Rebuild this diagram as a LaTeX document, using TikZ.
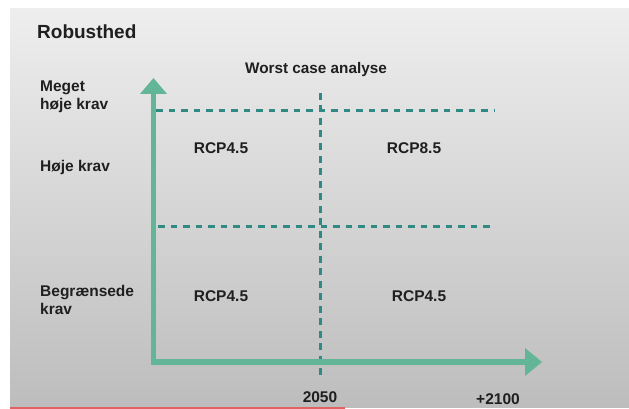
\documentclass[tikz,border=0pt]{standalone}
\usepackage{fontspec}
\setmainfont{Liberation Sans}
\usetikzlibrary{arrows.meta,positioning}
\definecolor{axisgreen}{HTML}{62B596}
\definecolor{gridteal}{HTML}{2F8A84}
\definecolor{slidered}{HTML}{E06262}
\definecolor{bgtop}{HTML}{EEEEEE}
\definecolor{bgmid}{HTML}{E2E2E2}
\definecolor{bgbot}{HTML}{BDBDBD}
\tikzstyle{axisline} = [line width=5.5pt,draw=axisgreen,line join=miter,{Triangle[width=26pt,length=16pt]}-{Triangle[width=27pt,length=17pt]}]
\tikzstyle{gridline} = [line width=3pt,draw=gridteal,dash pattern=on 6.5pt off 6pt]
\tikzstyle{lbl} = [inner sep=0,text height=11pt,text depth=0pt,text=black!88,font=\fontsize{15.5}{18}\selectfont\bfseries]
\tikzstyle{side} = [lbl,anchor=west]
\def \gap {7pt}

\begin{document}
\begin{tikzpicture}[x=1pt,y=-1pt]
      % slide background
      \fill[white] (0,0) rectangle (629,409);
      \shade[top color=bgtop,middle color=bgmid,bottom color=bgbot] (10,9) rectangle (629,407);
      \fill[slidered] (10,407) rectangle (345,409);
      % axes and grid
      \coordinate (o) at (153.5,362);
      \coordinate (ytop) at (153.5,78);
      \coordinate (xend) at (542,362);
      \coordinate (vtop) at (320.5,93);
      \coordinate (vbot) at (320.5,380);
      \coordinate (h1l) at (156,110.5);
      \coordinate (h1r) at (495,110.5);
      \coordinate (h2l) at (158,226.5);
      \coordinate (h2r) at (494,226.5);
      \draw[gridline] (h1l) -- (h1r);
      \draw[gridline] (h2l) -- (h2r);
      \draw[gridline,dash pattern=on 7pt off 5.5pt] (vtop) -- (vbot);
      \draw[axisline] (ytop) -- (o) -- (xend);
      % texts
      \node[side,text height=13.5pt,font=\fontsize{19}{22}\selectfont\bfseries] (title) at (37,32) {Robusthed};
      \node[lbl,font=\fontsize{15.3}{18}\selectfont\bfseries] (worst) at (316,68) {Worst case analyse};
      \node[side] (meget) at (40,86) {Meget};
      \node[side,below=\gap of meget.south west,anchor=north west] (hoje1) {høje krav};
      \node[side] (hoje2) at (40,166) {Høje krav};
      \node[side] (begr) at (40,291) {Begrænsede};
      \node[side,below=\gap of begr.south west,anchor=north west] (krav) {krav};
      \node[lbl] (rcpa) at (221,148) {RCP4.5};
      \node[lbl] (rcpb) at (414,148) {RCP8.5};
      \node[lbl] (rcpc) at (221,296) {RCP4.5};
      \node[lbl] (rcpd) at (419,296) {RCP4.5};
      \node[lbl] (y2050) at (320,397) {2050};
      \node[lbl] (y2100) at (498,399) {+2100};
\end{tikzpicture}
\end{document}
